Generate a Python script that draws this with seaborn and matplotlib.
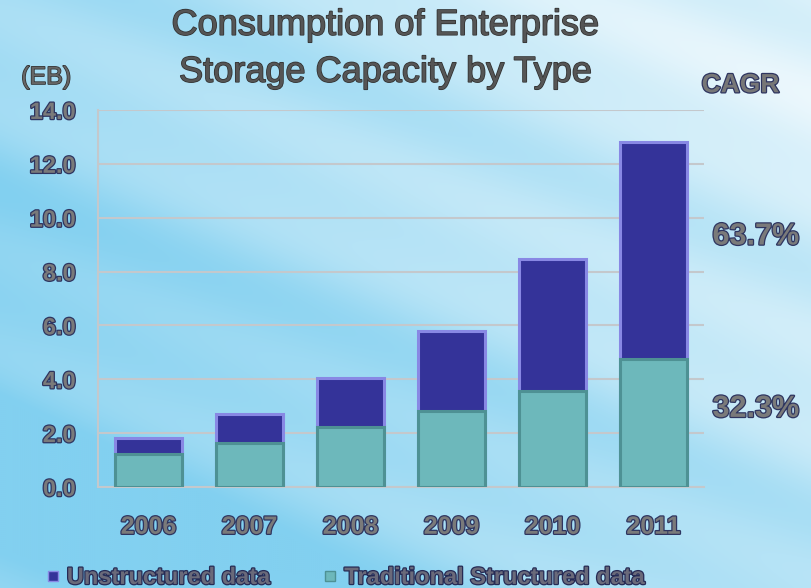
import numpy as np
import pandas as pd
import matplotlib
matplotlib.use('Agg')
import matplotlib.pyplot as plt
import matplotlib.patheffects as pe
from matplotlib import font_manager
from matplotlib.lines import Line2D
import seaborn as sns

# Data (EB)
years = ['2006', '2007', '2008', '2009', '2010', '2011']
structured = [1.22, 1.65, 2.21, 2.82, 3.55, 4.77]
unstructured = [0.60, 1.06, 1.85, 2.96, 4.92, 8.04]
cagr_labels = ['63.7%', '32.3%']
cagr_y = [9.3, 2.9]
series_names = ['Unstructured data', 'Traditional Structured data']

df = pd.DataFrame({'year': years, 'structured': structured, 'unstructured': unstructured})
df['total'] = df['structured'] + df['unstructured']

sns.set_theme(style='white')

# Condensed font if available
names = {f.name for f in font_manager.fontManager.ttflist}
if 'Liberation Sans Narrow' in names:
    FONT = ['Liberation Sans Narrow', 'DejaVu Sans']
else:
    FONT = ['Liberation Sans', 'DejaVu Sans']
plt.rcParams['font.family'] = FONT

BLUE = '#343399'
BLUE_EDGE = '#8888e4'
TEAL = '#6db8bb'
TEAL_EDGE = '#4e9194'
GRID = '#c4c8cc'

fig = plt.figure(figsize=(8.11, 5.88), dpi=100)

# background: light sky gradient with diagonal streaks
bg = fig.add_axes([0, 0, 1, 1], zorder=-10)
h, w = 294, 406
yy, xx = np.mgrid[0:h, 0:w]
xs = xx / w
ys = yy / h
t = np.clip(0.30 + 0.60 * xs - 0.45 * ys, 0, 1)
u = ys * 1.0 - xs * 0.55
streak = 0.10 * np.sin(u * 14.0) + 0.06 * np.sin(u * 31.0 + 1.3)
t = np.clip(t + streak, 0, 1)
c_blue = np.array([0x82, 0xd0, 0xf0]) / 255
c_white = np.array([0xf0, 0xf9, 0xfd]) / 255
img = c_blue[None, None, :] * (1 - t[..., None]) + c_white[None, None, :] * t[..., None]
bg.imshow(img, aspect='auto', extent=[0, 1, 0, 1], interpolation='bicubic')
bg.axis('off')

ax = fig.add_axes([0.1208, 0.1718, 0.7473, 0.6412])
ax.set_facecolor('none')

sns.barplot(data=df, x='year', y='total', color=BLUE, width=0.66, saturation=1,
            edgecolor=BLUE_EDGE, linewidth=2.2, ax=ax, zorder=3)
sns.barplot(data=df, x='year', y='structured', color=TEAL, width=0.66, saturation=1,
            edgecolor=TEAL_EDGE, linewidth=2.2, ax=ax, zorder=4)

ax.set_ylim(0, 14)
ax.set_xlim(-0.5, 5.5)
ax.set_yticks(np.arange(0, 14.1, 2))
ax.set_yticklabels([f'{v:.1f}' for v in np.arange(0, 14.1, 2)])
ax.set_xlabel('')
ax.set_ylabel('')
ax.grid(axis='y', color=GRID, linewidth=1.5, zorder=0)
ax.set_axisbelow(True)
for side in ['top', 'right']:
    ax.spines[side].set_visible(False)
for side in ['left', 'bottom']:
    ax.spines[side].set_color(GRID)
    ax.spines[side].set_linewidth(1.5)

# boundary tick marks between categories
ax.set_xticks(np.arange(-0.5, 5.6, 1), minor=True)
ax.tick_params(axis='x', which='minor', length=7, width=1.5, color=GRID, direction='out')
ax.tick_params(axis='x', which='major', length=0, pad=20)
ax.tick_params(axis='y', length=6, width=1.5, color=GRID, direction='out', pad=10)

label_fx = [pe.withStroke(linewidth=1.8, foreground='#2e3560')]
for lab in ax.get_yticklabels():
    lab.set_fontsize(17)
for lab in ax.get_xticklabels():
    lab.set_fontsize(18)
for lab in ax.get_xticklabels() + ax.get_yticklabels():
    lab.set_fontweight('bold')
    lab.set_color('#7a7a7a')
    lab.set_path_effects(label_fx)

title_fx = [pe.withStroke(linewidth=1.1, foreground='#303030')]
fig.text(0.475, 0.957, 'Consumption of Enterprise', ha='center', va='center',
         fontsize=26, color='#555555', path_effects=title_fx)
fig.text(0.475, 0.877, 'Storage Capacity by Type', ha='center', va='center',
         fontsize=26, color='#555555', path_effects=title_fx)
fig.text(0.057, 0.869, '(EB)', ha='center', va='center', fontsize=18,
         color='#666666', path_effects=title_fx)
fig.text(0.913, 0.855, 'CAGR', ha='center', va='center', fontsize=19,
         fontweight='bold', color='#777777', path_effects=label_fx)

for txt, yv in zip(cagr_labels, cagr_y):
    ax.text(1.0, yv, ' ' + txt, transform=ax.get_yaxis_transform(), ha='left', va='center',
            fontsize=22, fontweight='bold', color='#7a7a7a', path_effects=label_fx)

handles = [Line2D([], [], marker='s', linestyle='', markersize=7,
                  markerfacecolor=BLUE, markeredgecolor=BLUE_EDGE),
           Line2D([], [], marker='s', linestyle='', markersize=7,
                  markerfacecolor=TEAL, markeredgecolor=TEAL_EDGE)]
leg = fig.legend(handles, series_names, loc='center left', bbox_to_anchor=(0.03, 0.018),
                 ncol=2, frameon=False, handlelength=0.6, handletextpad=0.3,
                 columnspacing=2.2, prop={'family': FONT, 'size': 17, 'weight': 'bold'})
for txt in leg.get_texts():
    txt.set_color('#6a6a7a')
    txt.set_path_effects([pe.withStroke(linewidth=1.8, foreground='#262b55')])

fig.savefig('out.png', dpi=100)
